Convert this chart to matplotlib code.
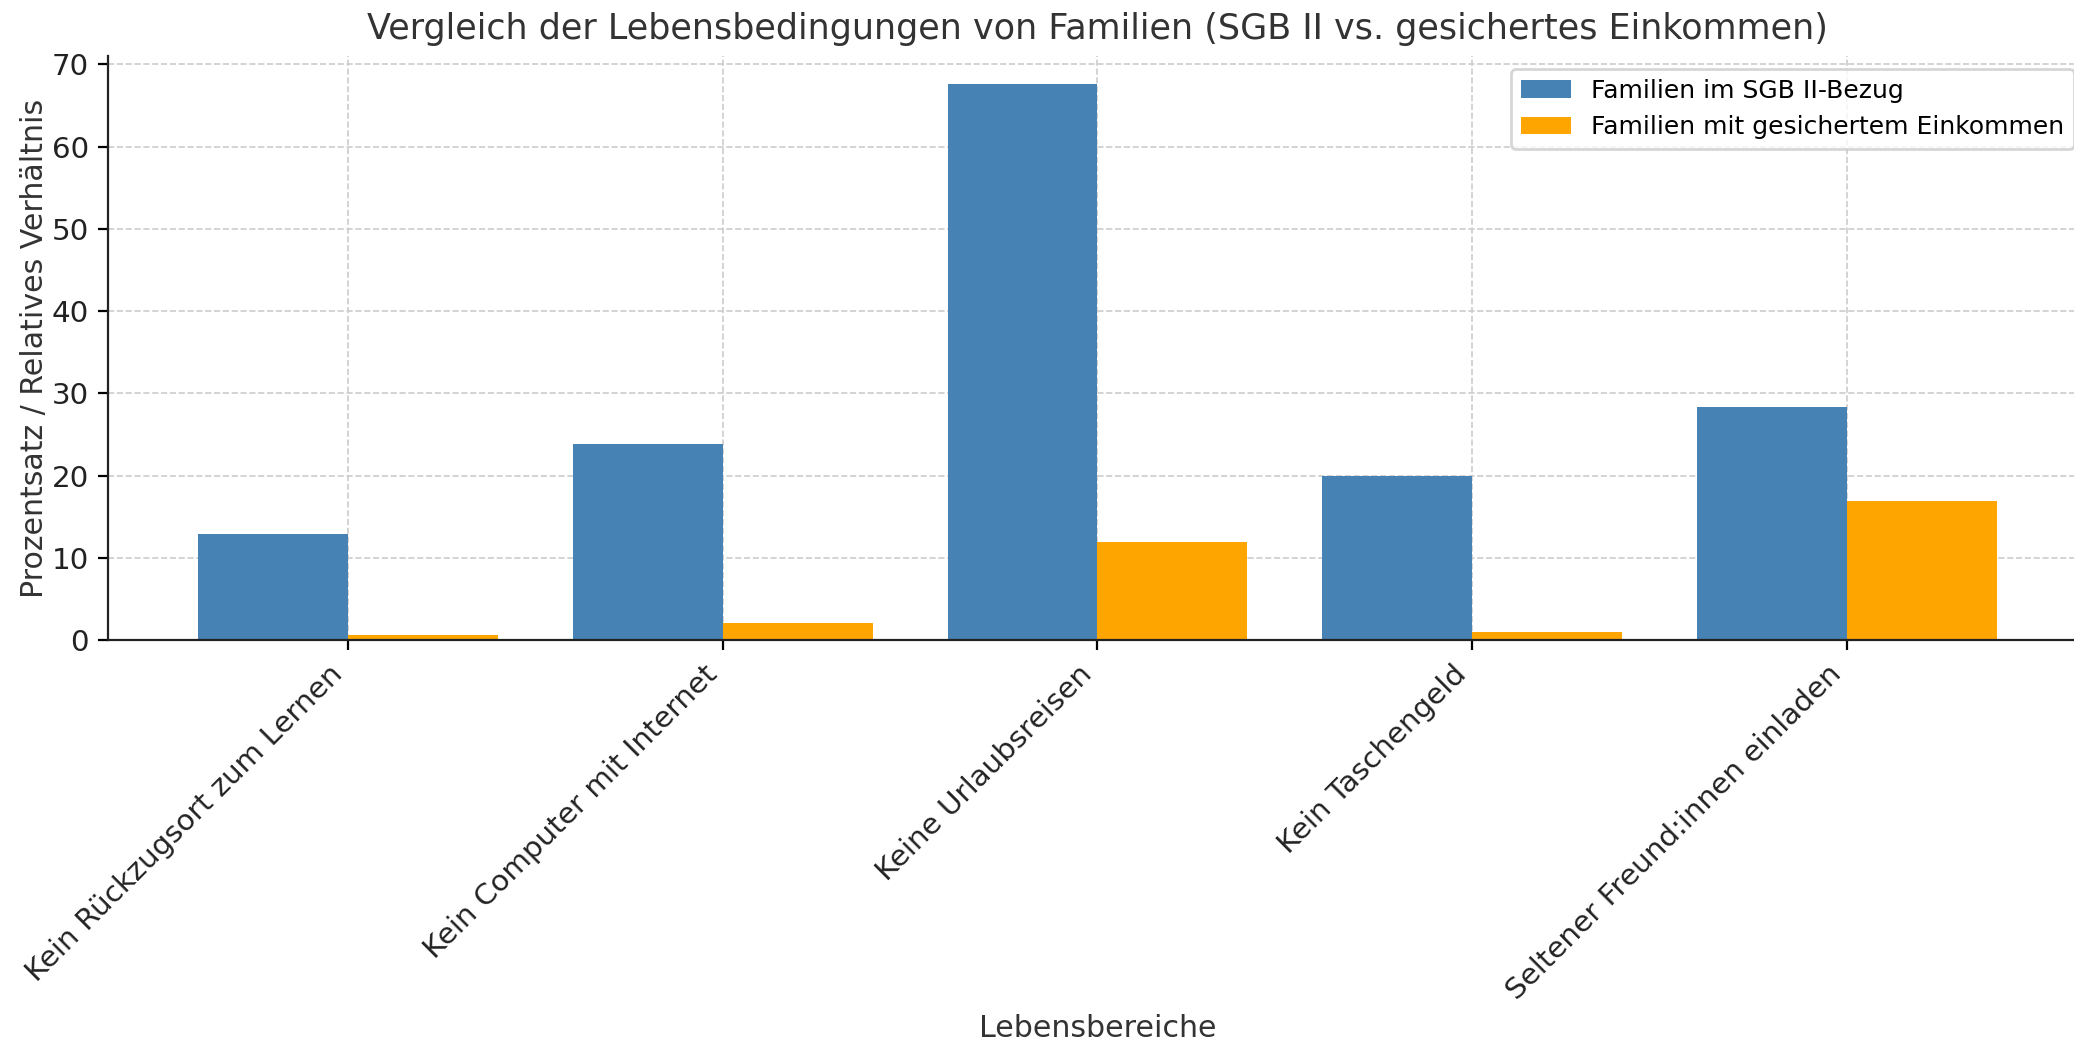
import matplotlib
matplotlib.use("Agg")
import matplotlib.pyplot as plt
import numpy as np

categories = [
    "Kein Rückzugsort zum Lernen",
    "Kein Computer mit Internet",
    "Keine Urlaubsreisen",
    "Kein Taschengeld",
    "Seltener Freund:innen einladen",
]
sgb2 = [12.9, 23.9, 67.6, 20.0, 28.3]
gesichert = [0.6, 2.1, 12.0, 1.0, 16.9]

x = np.arange(len(categories))
width = 0.4

fig, ax = plt.subplots(figsize=(10.37, 5.2), dpi=200)
# the original picture is cropped on the right, so the axes run past the figure edge
fig.subplots_adjust(left=0.0523, right=1.006, top=0.946, bottom=0.3842)

ax.bar(x - width / 2, sgb2, width, color="steelblue", label="Familien im SGB II-Bezug", zorder=2)
ax.bar(x + width / 2, gesichert, width, color="orange", label="Familien mit gesichertem Einkommen", zorder=2)

ax.set_title("Vergleich der Lebensbedingungen von Familien (SGB II vs. gesichertes Einkommen)",
             fontsize=12.6, color="#333333")
ax.set_xlabel("Lebensbereiche", fontsize=10.8, color="#333333", va="top")
ax.xaxis.set_label_coords(0.5, -0.64)
ax.set_ylabel("Prozentsatz / Relatives Verhältnis", fontsize=10.8, color="#333333", labelpad=1)
ax.set_xticks(x)
ax.set_xticklabels(categories, rotation=45, ha="right", fontsize=10.6, color="#222222")
ax.tick_params(axis="y", labelsize=10.6, labelcolor="#222222")
ax.set_yticks(range(0, 71, 10))

ax.grid(True, linestyle="--", color="#cccccc", linewidth=0.6, zorder=0)
ax.set_axisbelow(True)
for s in ["top", "right"]:
    ax.spines[s].set_visible(False)
ax.spines["left"].set_color("#222222")
ax.spines["bottom"].set_color("#222222")

ax.legend(fontsize=9, loc="upper right", frameon=True, edgecolor="#cccccc")

fig.savefig("out.png")
